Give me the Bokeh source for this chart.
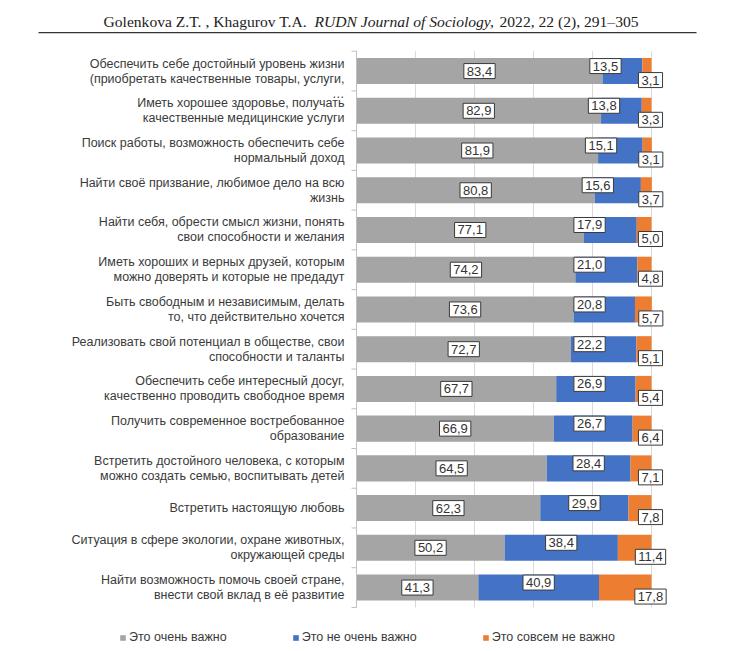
from bokeh.plotting import figure
from bokeh.models import (ColumnDataSource, LabelSet, Label, Legend, LegendItem,
                          Range1d, BoxAnnotation)
from bokeh.core.properties import value
from bokeh.embed import file_html
from bokeh.resources import INLINE

# ---------------- data ----------------
categories = [
    "Обеспечить себе достойный уровень жизни\n(приобретать качественные товары, услуги,\n…",
    "Иметь хорошее здоровье, получать\nкачественные медицинские услуги",
    "Поиск работы, возможность обеспечить себе\nнормальный доход",
    "Найти своё призвание, любимое дело на всю\nжизнь",
    "Найти себя, обрести смысл жизни, понять\nсвои способности и желания",
    "Иметь хороших и верных друзей, которым\nможно доверять и которые не предадут",
    "Быть свободным и независимым, делать\nто, что действительно хочется",
    "Реализовать свой потенциал в обществе, свои\nспособности и таланты",
    "Обеспечить себе интересный досуг,\nкачественно проводить свободное время",
    "Получить современное востребованное\nобразование",
    "Встретить достойного человека, с которым\nможно создать семью, воспитывать детей",
    "Встретить настоящую любовь",
    "Ситуация в сфере экологии, охране животных,\nокружающей среды",
    "Найти возможность помочь своей стране,\nвнести свой вклад в её развитие",
]
very_important = [83.4, 82.9, 81.9, 80.8, 77.1, 74.2, 73.6, 72.7, 67.7, 66.9, 64.5, 62.3, 50.2, 41.3]
not_very_important = [13.5, 13.8, 15.1, 15.6, 17.9, 21.0, 20.8, 22.2, 26.9, 26.7, 28.4, 29.9, 38.4, 40.9]
not_important = [3.1, 3.3, 3.1, 3.7, 5.0, 4.8, 5.7, 5.1, 5.4, 6.4, 7.1, 7.8, 11.4, 17.8]
series_names = ["Это очень важно", "Это не очень важно", "Это совсем не важно"]
colors = ["#A5A5A5", "#4472C4", "#ED7D31"]
grid_ticks = [0, 20, 40, 60, 80, 100]
title_parts = ["Golenkova Z.T. , Khagurov T.A.", "RUDN Journal of Sociology,", "2022, 22 (2), 291–305"]

# ---------------- layout ----------------
W, H = 730, 651
X0, PXX = 356, 2.95          # canvas x of value 0, pixels per percent
Y0, PXY = 50.7, 39.73        # canvas y of first row boundary, pixels per row
N = len(categories)

def xd(page_x):
    return (page_x - X0) / PXX

def yd(page_y):
    return (page_y - Y0) / PXY

def fmt(v):
    return f"{v:.1f}".replace(".", ",")

p = figure(width=W, height=H,
           x_range=Range1d(-X0 / PXX, (W - X0) / PXX),
           y_range=Range1d((H - Y0) / PXY, -Y0 / PXY),
           x_axis_type=None, y_axis_type=None,
           output_backend="svg", toolbar_location=None, min_border=0)
p.outline_line_color = None
p.background_fill_color = "white"
p.border_fill_color = "white"

ys = [i + 0.5 for i in range(N)]
src = ColumnDataSource(dict(y=ys, very=very_important, nv=not_very_important, na=not_important))

# vertical grid lines (within the bar area) and the category axis
p.segment(x0=grid_ticks, x1=grid_ticks, y0=[0] * len(grid_ticks), y1=[N] * len(grid_ticks),
          line_color="#d9d9d9", line_width=1)
renderers = p.hbar_stack(["very", "nv", "na"], y="y", height=0.655, color=colors,
                         line_color=None, source=src)
p.segment(x0=[0], x1=[0], y0=[0], y1=[N], line_color="#bfbfbf", line_width=1)
bounds = list(range(N + 1))
p.segment(x0=[0] * len(bounds), x1=[-5 / PXX] * len(bounds), y0=bounds, y1=bounds,
          line_color="#bfbfbf", line_width=1)

# category labels
lx, ly, lt, lo = [], [], [], []
for i, c in enumerate(categories):
    lines = c.split("\n")
    for j, line in enumerate(lines):
        lx.append(0)
        ly.append(ys[i])
        lt.append(line)
        off = 0.0 if len(lines) == 1 else (j - 0.5) * 15.0
        lo.append(-off)
cat_src = ColumnDataSource(dict(x=lx, y=ly, t=lt, o=lo))
p.add_layout(LabelSet(x="x", y="y", text="t", source=cat_src, y_offset="o", x_offset=-12,
                      text_align="right", text_baseline="middle",
                      text_font=value("Liberation Sans"), text_font_size="12.5px",
                      text_color="#3a3a3a"))

# value labels with boxes
def box_label(x, y, text, dx=0, dy=0):
    p.add_layout(Label(x=x, y=y, text=text, x_offset=dx, y_offset=dy,
                       text_align="center", text_baseline="middle",
                       text_font="Liberation Sans", text_font_size="13px", text_color="#333333",
                       background_fill_color="white", border_line_color="#3a3a3a",
                       border_line_width=1, padding=(3, 3)))

for i in range(N):
    a, b, c = very_important[i], not_very_important[i], not_important[i]
    box_label(a / 2, ys[i], fmt(a))
    box_label(min(a + b / 2, max(a + 1, 79)), ys[i], fmt(b), dy=5)
    box_label(a + b + c, ys[i], fmt(c), dx=-1, dy=-9)

# title
for txt, px, style in zip(title_parts, [103, 314, 499], ["normal", "italic", "normal"]):
    p.add_layout(Label(x=xd(px), y=yd(21), text=txt, text_align="left",
                       text_baseline="middle", text_font="Liberation Serif",
                       text_font_style=style, text_font_size="15.6px", text_color="#222222"))
p.add_layout(BoxAnnotation(left=xd(38), right=xd(696), top=yd(31.5), bottom=yd(32.8),
                           fill_color="#333333", fill_alpha=1, line_alpha=0))

# legend
legend = Legend(items=[LegendItem(label=n, renderers=[r]) for n, r in zip(series_names, renderers)],
                orientation="horizontal", location=(119, 7),
                glyph_width=7, glyph_height=7, label_standoff=3, spacing=65,
                padding=0, margin=0, label_height=12,
                label_text_font="Liberation Sans", label_text_font_size="12.5px",
                label_text_color="#3a3a3a", border_line_alpha=0, background_fill_alpha=0)
p.add_layout(legend)

open("out.html", "w").write(file_html(p, INLINE))
